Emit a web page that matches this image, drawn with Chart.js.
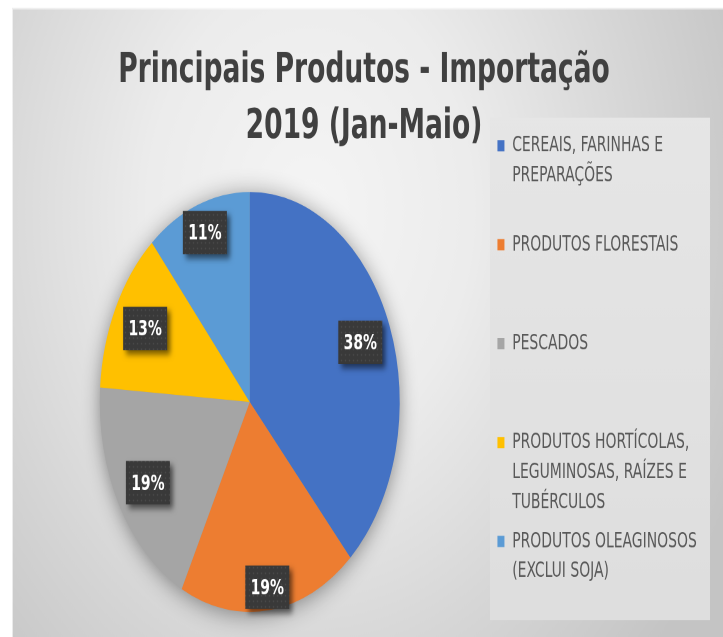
<!DOCTYPE html>
<html><head><meta charset="utf-8">
<script src="https://cdn.jsdelivr.net/npm/chart.js@4/dist/chart.umd.min.js"></script>
<style>
html,body{margin:0;padding:0;background:#fff;overflow:hidden;width:723px;height:637px}
#wrap{position:absolute;left:0;top:0;width:723px;height:455px;transform:scale(1,1.4);transform-origin:0 0}
canvas{display:block}
</style></head><body>
<div id="wrap"><canvas id="c" width="723" height="455"></canvas></div>
<script>
const titleLines = ['Principais Produtos - Importação', '2019 (Jan-Maio)'];
const categories = ['CEREAIS, FARINHAS E PREPARAÇÕES', 'PRODUTOS FLORESTAIS', 'PESCADOS', 'PRODUTOS HORTÍCOLAS, LEGUMINOSAS, RAÍZES E TUBÉRCULOS', 'PRODUTOS OLEAGINOSOS (EXCLUI SOJA)'];
const legendLines = [['CEREAIS, FARINHAS E', 'PREPARAÇÕES'], ['PRODUTOS FLORESTAIS'], ['PESCADOS'], ['PRODUTOS HORTÍCOLAS,', 'LEGUMINOSAS, RAÍZES E', 'TUBÉRCULOS'], ['PRODUTOS OLEAGINOSOS', '(EXCLUI SOJA)']];
const shares = [38.3, 19.2, 18.6, 12.6, 11.3];
const colors = ['#4472C4', '#ED7D31', '#A5A5A5', '#FFC000', '#5B9BD5'];
const labelRadiusFactor = [0.79, 0.89, 0.78, 0.78, 0.86];

const FONT = "'DejaVu Sans Condensed', 'Liberation Sans Narrow', 'Liberation Sans', sans-serif";

const bgPlugin = {
  id: 'bg',
  afterLayout(chart) {
    const t = chart.titleBlock;
    if (t) {
      const dx = 364 - (t.left + t.right) / 2;
      t.left += dx; t.right += dx;
    }
  },
  beforeDraw(chart) {
    const ctx = chart.ctx, W = chart.width, H = chart.height;
    ctx.save();
    ctx.fillStyle = '#ffffff';
    ctx.fillRect(0, 0, W, H);
    const g = ctx.createRadialGradient(310, 150, 0, 310, 150, 470);
    g.addColorStop(0, '#f5f5f5');
    g.addColorStop(0.35, '#ececec');
    g.addColorStop(0.7, '#d6d6d6');
    g.addColorStop(1, '#c4c4c4');
    ctx.fillStyle = g;
    ctx.fillRect(12, 5.7, W - 12, H - 5.7);
    ctx.strokeStyle = 'rgba(255,255,255,0.6)';
    ctx.lineWidth = 1;
    ctx.beginPath();
    ctx.moveTo(12.5, H); ctx.lineTo(12.5, 6.2); ctx.lineTo(W, 6.2);
    ctx.stroke();
    // legend panel
    const x0 = 490, x1 = 710, y0 = 84, y1 = 443;
    const g2 = ctx.createLinearGradient(0, y0, 0, y1);
    g2.addColorStop(0, '#e6e6e6');
    g2.addColorStop(1, '#dedede');
    ctx.fillStyle = g2;
    ctx.fillRect(x0, y0, x1 - x0, y1 - y0);
    ctx.restore();
  }
};

const shadowPlugin = {
  id: 'pieShadow',
  beforeDatasetsDraw(chart) {
    const arc = chart.getDatasetMeta(0).data[0];
    if (!arc) return;
    const p = arc.getProps(['x', 'y', 'outerRadius'], true);
    const ctx = chart.ctx, dpr = chart.currentDevicePixelRatio || 1;
    ctx.save();
    ctx.shadowColor = 'rgba(0,0,0,0.45)';
    ctx.shadowBlur = 18 * dpr;
    ctx.shadowOffsetX = 0;
    ctx.shadowOffsetY = 2 * dpr;
    ctx.fillStyle = '#999999';
    ctx.beginPath();
    ctx.arc(p.x, p.y, p.outerRadius - 1, 0, Math.PI * 2);
    ctx.fill();
    ctx.restore();
  }
};

let patternCache = null;
function getPattern(ctx) {
  if (patternCache) return patternCache;
  const c = document.createElement('canvas');
  c.width = 4; c.height = 4;
  const x = c.getContext('2d');
  x.fillStyle = '#393939';
  x.fillRect(0, 0, 4, 4);
  x.fillStyle = '#555555';
  x.fillRect(1, 1, 1, 1);
  patternCache = ctx.createPattern(c, 'repeat');
  return patternCache;
}

const labelPlugin = {
  id: 'pctLabels',
  afterDatasetsDraw(chart) {
    const meta = chart.getDatasetMeta(0);
    const data = chart.data.datasets[0].data;
    const total = data.reduce((a, b) => a + b, 0);
    const ctx = chart.ctx, dpr = chart.currentDevicePixelRatio || 1;
    meta.data.forEach((arc, i) => {
      const p = arc.getProps(['x', 'y', 'startAngle', 'endAngle', 'outerRadius'], true);
      const mid = (p.startAngle + p.endAngle) / 2;
      const d = p.outerRadius * labelRadiusFactor[i];
      const cx = p.x + Math.cos(mid) * d;
      const cy = p.y + Math.sin(mid) * d;
      const text = Math.round(data[i] / total * 100) + '%';
      const bw = 44, bh = 31;
      ctx.save();
      ctx.shadowColor = 'rgba(0,0,0,0.55)';
      ctx.shadowBlur = 5 * dpr;
      ctx.shadowOffsetX = 3 * dpr;
      ctx.shadowOffsetY = 3 * dpr;
      ctx.fillStyle = getPattern(ctx);
      ctx.fillRect(cx - bw / 2, cy - bh / 2, bw, bh);
      ctx.restore();
      ctx.save();
      ctx.fillStyle = '#ffffff';
      ctx.font = 'bold 15.5px ' + FONT;
      ctx.textAlign = 'center';
      ctx.textBaseline = 'middle';
      ctx.fillText(text, cx, cy + 1);
      ctx.restore();
    });
  }
};

new Chart(document.getElementById('c'), {
  type: 'pie',
  data: {
    labels: categories,
    datasets: [{
      data: shares,
      backgroundColor: colors,
      borderWidth: 0,
      radius: 150
    }]
  },
  options: {
    responsive: false,
    animation: false,
    devicePixelRatio: 2,
    layout: { padding: { left: 8.5, right: 16.2, top: 0, bottom: 5.3 } },
    plugins: {
      tooltip: { enabled: false },
      title: {
        display: true,
        text: titleLines,
        color: '#404040',
        font: { family: FONT, size: 29.5, weight: 'bold', lineHeight: 1.36 },
        padding: { top: 30.6, bottom: 13.6 }
      },
      legend: {
        position: 'right',
        align: 'end',
        labels: {
          color: '#595959',
          font: { family: FONT, size: 15.5, lineHeight: 1.38 },
          boxWidth: 7,
          boxHeight: 8,
          padding: 6.5,
          generateLabels(chart) {
            return chart.data.labels.map((l, i) => {
              const lines = legendLines[i].slice();
              while (lines.length < 3) lines.push('');
              return {
                text: lines,
                fillStyle: colors[i],
                strokeStyle: colors[i],
                lineWidth: 0,
                fontColor: '#595959',
                hidden: !chart.getDataVisibility(i),
                index: i
              };
            });
          }
        }
      }
    }
  },
  plugins: [bgPlugin, shadowPlugin, labelPlugin]
});
</script>
</body></html>
